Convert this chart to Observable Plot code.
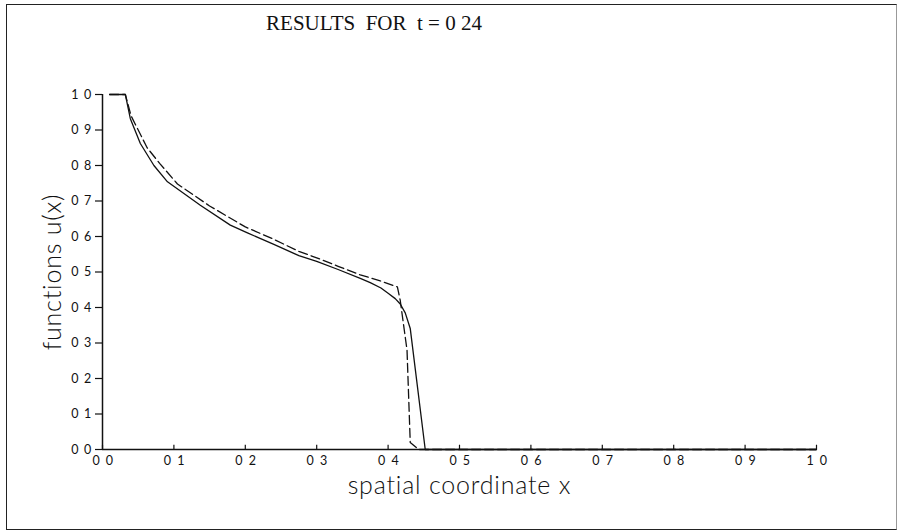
<!DOCTYPE html>
<html>
<head>
<meta charset="utf-8">
<script src="https://cdn.jsdelivr.net/npm/d3@7"></script>
<script src="https://cdn.jsdelivr.net/npm/@observablehq/plot@0.6"></script>
<style>
  html, body { margin: 0; padding: 0; background: #fff; }
  #wrap { position: relative; width: 900px; height: 532px; overflow: hidden; }
  #border { position: absolute; left: 6px; top: 4px; width: 891px; height: 526px; border: 1.5px solid #222; border-right: 1px solid #999; box-sizing: border-box; pointer-events: none; }
  #title { position: absolute; left: 0; width: 748px; top: 11px; text-align: center; font-family: "Liberation Serif", "DejaVu Serif", serif; font-size: 21px; color: #111; white-space: pre; }
  svg { display: block; }
</style>
</head>
<body>
<div id="wrap">
  <div id="title">RESULTS  FOR  t = 0 24</div>
  <div id="border"></div>
</div>
<script>
// Solid curve
const solidX = [0.010, 0.032, 0.039, 0.053, 0.072, 0.091, 0.137, 0.179, 0.203, 0.240, 0.275, 0.300, 0.330, 0.361, 0.375, 0.390, 0.400, 0.410, 0.417, 0.424, 0.431, 0.452, 1.000];
const solidU = [1.000, 1.000, 0.932, 0.862, 0.800, 0.754, 0.688, 0.632, 0.610, 0.578, 0.546, 0.530, 0.507, 0.482, 0.470, 0.455, 0.440, 0.425, 0.410, 0.385, 0.341, 0.000, 0.000];
// Dashed curve
const dashX = [0.010, 0.032, 0.040, 0.0625, 0.080, 0.105, 0.150, 0.200, 0.240, 0.275, 0.300, 0.330, 0.361, 0.389, 0.413, 0.417, 0.4265, 0.431, 0.443, 1.000];
const dashU = [1.000, 1.000, 0.940, 0.850, 0.806, 0.748, 0.686, 0.627, 0.592, 0.558, 0.540, 0.516, 0.492, 0.475, 0.458, 0.420, 0.280, 0.020, 0.000, 0.000];
// Ticks
const xTicks = [0, 0.1, 0.2, 0.3, 0.4, 0.5, 0.6, 0.7, 0.8, 0.9, 1.0];
const yTicks = [0, 0.1, 0.2, 0.3, 0.4, 0.5, 0.6, 0.7, 0.8, 0.9, 1.0];
const xTickLabels = ["0 0", "0 1", "0 2", "0 3", "0 4", "0 5", "0 6", "0 7", "0 8", "0 9", "1 0"];
const yTickLabels = ["0 0", "0 1", "0 2", "0 3", "0 4", "0 5", "0 6", "0 7", "0 8", "0 9", "1 0"];
const xLabel = "spatial coordinate x";
const yLabel = "functions u(x)";

const solid = solidX.map((x, i) => ({x, u: solidU[i]}));
const dashed = dashX.map((x, i) => ({x, u: dashU[i]}));

const labelFont = "Lato, 'DejaVu Sans', sans-serif";
const fmtX = d => xTickLabels[xTicks.findIndex(t => Math.abs(t - d) < 1e-9)];
const fmtY = d => yTickLabels[yTicks.findIndex(t => Math.abs(t - d) < 1e-9)];

const chart = Plot.plot({
  width: 900,
  height: 532,
  marginLeft: 102,
  marginRight: 84,
  marginTop: 94,
  marginBottom: 83,
  style: {background: "transparent", fontFamily: labelFont, color: "#111"},
  x: {domain: [0, 1], type: "linear"},
  y: {domain: [0, 1], type: "linear"},
  marks: [
    Plot.axisX({ticks: xTicks, tickSize: 0, tickPadding: 7, tickFormat: fmtX, label: null, fontSize: 12.5, dx: 1}),
    Plot.axisY({ticks: yTicks, tickSize: 7, tickPadding: 3, tickFormat: fmtY, label: null, fontSize: 12.5, strokeWidth: 1.2}),
    // axis lines
    Plot.ruleY([0], {x1: 0, x2: 1, stroke: "#111", strokeWidth: 1.5}),
    Plot.ruleX([0], {y1: 0, y2: 1, stroke: "#111", strokeWidth: 1.5}),
    // x ticks pointing up
    Plot.ruleX(xTicks, {x: d => d, y1: 0, y2: 0.012, stroke: "#111", strokeWidth: 1.2}),
    // curves
    Plot.line(solid, {x: "x", y: "u", stroke: "#111", strokeWidth: 1.3}),
    Plot.line(dashed, {x: "x", y: "u", stroke: "#111", strokeWidth: 1.3, strokeDasharray: "9,4"}),
    // axis titles
    Plot.text([xLabel], {frameAnchor: "bottom", textAnchor: "middle", dy: 44, text: d => d, fontSize: 25, fill: "#111", fontWeight: 300}),
    Plot.text([yLabel], {frameAnchor: "left", textAnchor: "middle", lineAnchor: "middle", dx: -50, dy: 0, rotate: -90, text: d => d, fontSize: 25, fill: "#111", fontWeight: 300})
  ]
});

// letter spacing to mimic the wide plotter lettering
const svg = d3.select(chart);
svg.selectAll('g[aria-label="x-axis tick label"] text').attr("letter-spacing", "1.5px");
svg.selectAll('g[aria-label="y-axis tick label"] text').attr("letter-spacing", "1.2px");
svg.selectAll('g[aria-label="text"] text').attr("letter-spacing", "0.8px");

document.getElementById("wrap").prepend(chart);
</script>
</body>
</html>
